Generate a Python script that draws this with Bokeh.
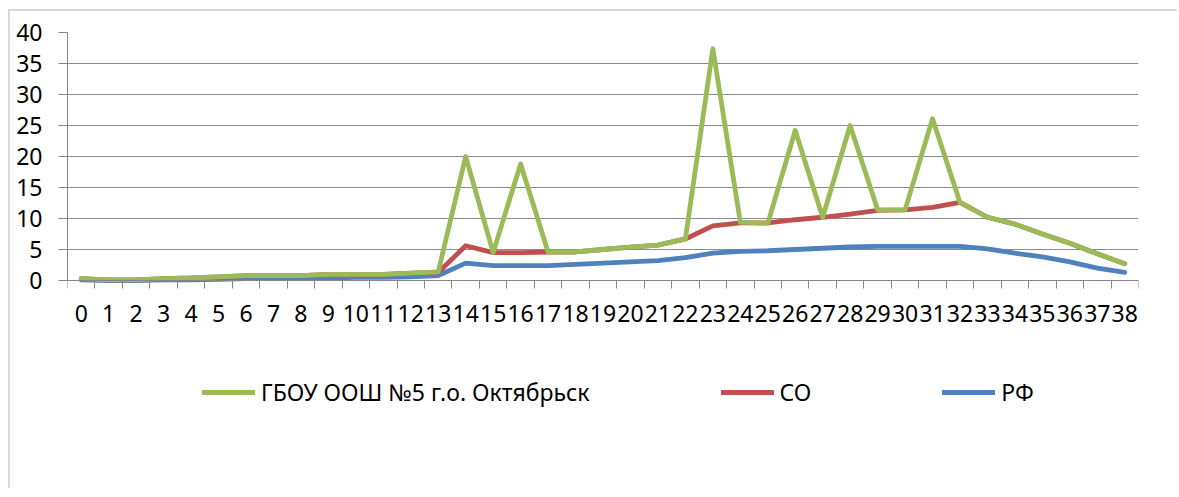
from bokeh.plotting import figure
from bokeh.models import FixedTicker, Range1d, Legend, LegendItem, ColumnDataSource
from bokeh.embed import file_html
from bokeh.resources import INLINE

categories = ["0", "1", "2", "3", "4", "5", "6", "7", "8", "9", "10", "11", "12", "13",
              "14", "15", "16", "17", "18", "19", "20", "21", "22", "23", "24", "25", "26",
              "27", "28", "29", "30", "31", "32", "33", "34", "35", "36", "37", "38"]

school = [0.3, 0.1, 0.1, 0.3, 0.4, 0.6, 0.8, 0.8, 0.8, 1.0, 1.0, 1.0, 1.2, 1.4,
          20.0, 4.5, 18.8, 4.6, 4.6, 5.0, 5.4, 5.7, 6.7, 37.4, 9.4, 9.2, 24.2,
          10.2, 25.0, 11.4, 11.4, 26.1, 12.6, 10.2, 9.1, 7.5, 6.0, 4.3, 2.7]
region = [0.3, 0.1, 0.1, 0.3, 0.4, 0.6, 0.8, 0.8, 0.8, 1.0, 1.0, 1.0, 1.2, 1.3,
          5.6, 4.5, 4.5, 4.6, 4.6, 5.0, 5.4, 5.7, 6.7, 8.8, 9.3, 9.3, 9.8,
          10.2, 10.7, 11.3, 11.4, 11.8, 12.6, 10.2, 9.1, 7.5, 6.0, 4.3, 2.7]
russia = [0.1, 0.0, 0.0, 0.1, 0.1, 0.2, 0.3, 0.3, 0.3, 0.4, 0.5, 0.5, 0.6, 0.8,
          2.8, 2.4, 2.4, 2.4, 2.6, 2.8, 3.0, 3.2, 3.7, 4.4, 4.7, 4.8, 5.0,
          5.2, 5.4, 5.5, 5.5, 5.5, 5.5, 5.1, 4.4, 3.8, 3.0, 2.0, 1.3]

series_names = ["ГБОУ ООШ №5 г.о. Октябрьск", "СО", "РФ"]
series_colors = ["#9BBB59", "#C0504D", "#4F81BD"]
y_ticks = [0, 5, 10, 15, 20, 25, 30, 35, 40]

FONT = "Noto Sans"
FS = "23px"

n = len(categories)
xs = list(range(n))
src = ColumnDataSource(dict(x=xs, school=school, region=region, russia=russia))

# The frame extends below zero so that the legend can sit inside it;
# the x axis is drawn at y = 0 with fixed_location.
p = figure(width=1169, height=479, output_backend="svg", toolbar_location=None,
           x_range=Range1d(-0.5, n - 0.5), y_range=Range1d(-25, 40),
           min_border_left=57, min_border_right=41, min_border_top=21,
           min_border_bottom=55)
p.styles = {"margin-left": "8px", "margin-top": "9px",
            "border-left": "2px solid #d9d9d9", "border-top": "2px solid #d9d9d9"}
p.outline_line_color = None
p.background_fill_color = "white"
p.border_fill_color = "white"

# x axis: labels at category centres, tick marks at category boundaries
xa = p.xaxis[0]
xa.fixed_location = 0
xa.ticker = FixedTicker(ticks=xs, minor_ticks=[i - 0.5 for i in range(n + 1)])
xa.major_label_overrides = {i: c for i, c in enumerate(categories)}
xa.major_tick_out = 0
xa.major_tick_in = 0
xa.minor_tick_out = 8
xa.minor_tick_in = 0
xa.minor_tick_line_color = "#868686"
xa.axis_line_color = "#868686"
xa.major_label_standoff = 16
xa.major_label_text_font = FONT
xa.major_label_text_font_size = FS
xa.major_label_text_color = "#000000"

ya = p.yaxis[0]
ya.ticker = FixedTicker(ticks=y_ticks)
ya.bounds = (0, 40)
ya.major_tick_out = 9
ya.major_tick_in = 0
ya.minor_tick_line_color = None
ya.major_tick_line_color = "#868686"
ya.axis_line_color = "#868686"
ya.major_label_standoff = 16
ya.major_label_text_font = FONT
ya.major_label_text_font_size = FS
ya.major_label_text_color = "#000000"

p.xgrid.grid_line_color = None
p.ygrid.grid_line_color = "#8c8c8c"
p.ygrid.grid_line_width = 1

r_blue = p.line("x", "russia", source=src, line_color=series_colors[2], line_width=4.8,
                line_join="round", line_cap="round")
r_red = p.line("x", "region", source=src, line_color=series_colors[1], line_width=4.8,
               line_join="round", line_cap="round")
r_green = p.line("x", "school", source=src, line_color=series_colors[0], line_width=4.8,
                 line_join="round", line_cap="round")

legend = Legend(items=[LegendItem(label=series_names[0], renderers=[r_green]),
                       LegendItem(label=series_names[1], renderers=[r_red]),
                       LegendItem(label=series_names[2], renderers=[r_blue])],
                orientation="horizontal", location=(135, 27))
legend.padding = 0
legend.margin = 0
legend.spacing = 131
legend.glyph_width = 53
legend.glyph_height = 20
legend.label_standoff = 6
legend.border_line_color = None
legend.background_fill_alpha = 0
legend.label_text_font = FONT
legend.label_text_font_size = FS
legend.label_text_color = "#000000"
p.add_layout(legend, "center")

open("out.html", "w").write(file_html(p, INLINE))
